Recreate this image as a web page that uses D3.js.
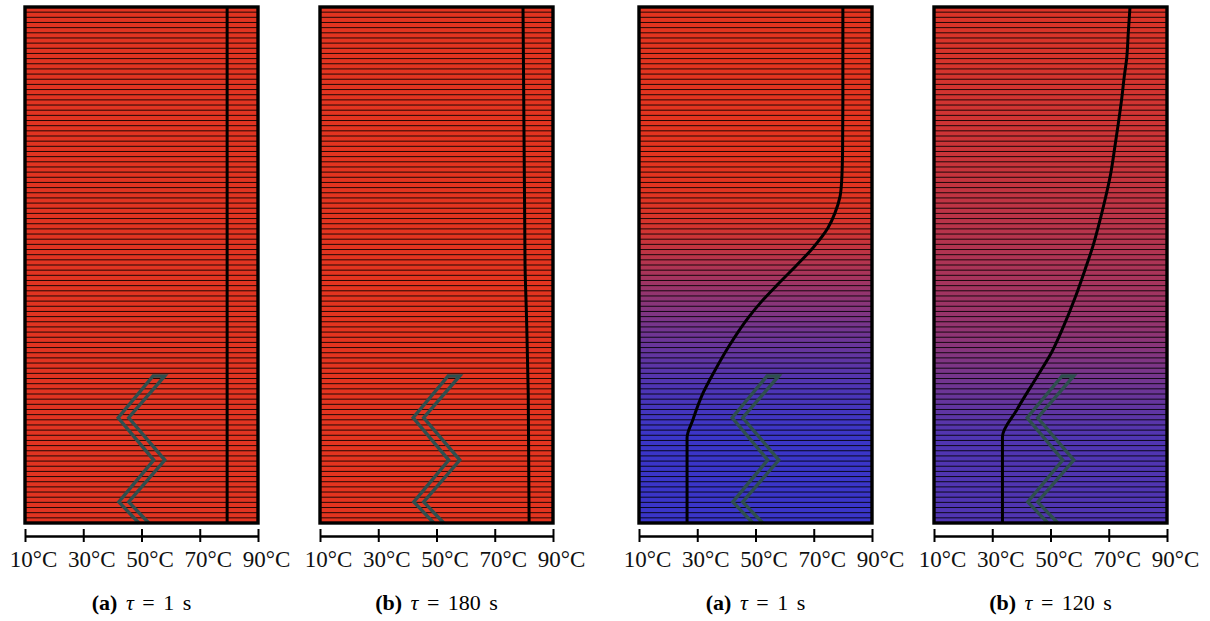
<!DOCTYPE html>
<html><head><meta charset="utf-8">
<script src="https://cdn.jsdelivr.net/npm/d3@7/dist/d3.min.js"></script>
<style>html,body{margin:0;padding:0;background:#fff}svg{display:block}</style>
</head><body><div id="c"></div>
<script>
const tickValues = [10, 30, 50, 70, 90];
const tempDomain = [10, 90];
const layerCount = 100;

const panelLabels = ["(a)", "(b)", "(a)", "(b)"];
const panelTimes = ["1", "180", "1", "120"];

const depthA = [0, 100];
const tempA = [79.4, 79.4];
const depthB = [0, 50, 60, 75, 100];
const tempB = [79.7, 80.4, 80.9, 81.5, 81.8];
const depthC = [0, 18, 27.7, 33.5, 36.8, 39.9, 42.8, 46.7, 50, 53.9, 57, 60, 63, 66, 70.3, 74.8, 80, 83.5, 100];
const tempC = [80, 80, 79.9, 79.6, 79, 77.3, 74.9, 69.7, 64.2, 57.4, 52.2, 47.8, 44, 40.6, 36.2, 32, 28.5, 26.5, 26.5];
const depthD = [0, 5, 9.7, 13.6, 18, 22.5, 27.1, 32.2, 37.4, 41.3, 46.1, 51, 56.4, 62, 66.9, 71.7, 78.1, 83.3, 100];
const tempD = [77.3, 76.7, 76.2, 75.3, 74.4, 73.3, 72.1, 70.7, 68.7, 67, 64.7, 61.8, 58.4, 54.4, 50.4, 45.3, 38.4, 33.5, 33.5];

const zigDepth = [71.5, 79.6, 87.8, 95.9, 100];
const zigLeft = [54, 42, 54.2, 42.2, 49.1];
const zigRight = [58, 45.6, 58, 45.6, 52.5];

const depths = [depthA, depthB, depthC, depthD];
const temps = [tempA, tempB, tempC, tempD];
const panelLefts = [25, 320, 639, 934];
const panelWidth = 233, plotTop = 7, plotBottom = 523;
const red = "#e3341f", blue = "#3a35c8";

const svg = d3.select("#c").append("svg").attr("width", 1210).attr("height", 621);
const colour = d3.scaleLinear().domain([26.5, 80]).range([blue, red]).clamp(true);
const y = d3.scaleLinear().domain([0, layerCount]).range([plotTop, plotBottom]);
const defs = svg.append("defs");

panelLefts.forEach((left, i) => {
  const x = d3.scaleLinear().domain(tempDomain).range([left, left + panelWidth]);
  const g = svg.append("g");
  const grad = defs.append("linearGradient").attr("id", "g" + i)
    .attr("x1", 0).attr("x2", 0).attr("y1", 0).attr("y2", 1);
  grad.selectAll("stop").data(depths[i]).join("stop")
    .attr("offset", d => d / layerCount)
    .attr("stop-color", (d, k) => colour(temps[i][k]));
  g.append("rect").attr("x", left).attr("y", plotTop)
    .attr("width", panelWidth).attr("height", plotBottom - plotTop).attr("fill", `url(#g${i})`);
  g.selectAll("line.layer").data(d3.range(1, layerCount)).join("line")
    .attr("class", "layer").attr("x1", left).attr("x2", left + panelWidth)
    .attr("y1", d => y(d)).attr("y2", d => y(d))
    .attr("stroke", "#000").attr("stroke-width", 0.85);
  // heater zigzag
  const zig = d3.line().x(d => x(d[0])).y(d => y(d[1]));
  const pts = zigLeft.map((t, k) => [t, zigDepth[k]]).reverse()
    .concat(zigRight.map((t, k) => [t, zigDepth[k]]));
  g.append("path").attr("d", zig(pts)).attr("fill", "none")
    .attr("stroke", "#2f4f4f").attr("stroke-width", 3.4).attr("stroke-linejoin", "miter");
  // temperature profile
  const prof = d3.line().x(d => x(d[0])).y(d => y(d[1])).curve(d3.curveMonotoneY);
  g.append("path").attr("d", prof(temps[i].map((t, k) => [t, depths[i][k]])))
    .attr("fill", "none").attr("stroke", "#000").attr("stroke-width", 3);
  // frame
  g.append("rect").attr("x", left).attr("y", plotTop)
    .attr("width", panelWidth).attr("height", plotBottom - plotTop)
    .attr("fill", "none").attr("stroke", "#000").attr("stroke-width", 3.4);
  // axis
  const axis = d3.axisBottom(x).tickValues(tickValues).tickSize(0).tickFormat(d => d + "°C");
  const ag = svg.append("g").attr("transform", "translate(0,536)").call(axis);
  ag.select(".domain").attr("stroke", "#000").attr("stroke-width", 2.4);
  ag.selectAll(".tick line").attr("y1", -7).attr("y2", 6).attr("stroke", "#000").attr("stroke-width", 2);
  ag.selectAll(".tick text").attr("x", 8).attr("y", 31).attr("dy", null)
    .attr("font-family", "'Liberation Serif'").attr("font-size", 23).attr("fill", "#111");
  // caption
  const cap = svg.append("text").attr("x", left + panelWidth / 2).attr("y", 610)
    .attr("text-anchor", "middle").attr("font-family", "'Liberation Serif'")
    .attr("font-size", 22).attr("word-spacing", 3).attr("fill", "#000");
  cap.append("tspan").attr("font-weight", "bold").text(panelLabels[i]);
  cap.append("tspan").text(" ");
  cap.append("tspan").attr("font-style", "italic").text("τ");
  cap.append("tspan").text(" = " + panelTimes[i] + " s");
});
</script></body></html>
